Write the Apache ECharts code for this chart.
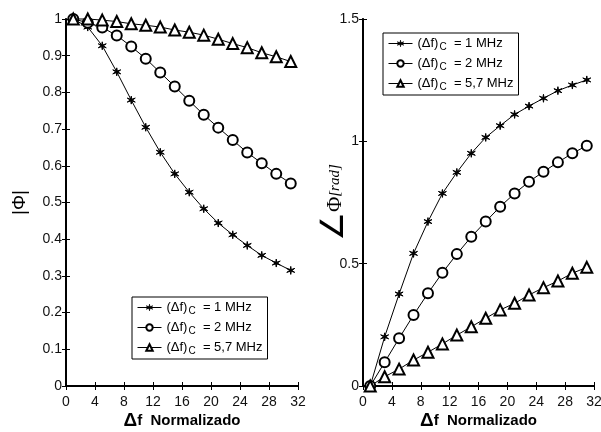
<!doctype html>
<html>
<head>
<meta charset="utf-8"/>
<title>Phi</title>
<script src="https://cdn.jsdelivr.net/npm/echarts@6/dist/echarts.min.js"></script>
<style>
body { margin: 0; background: #fff; }
#chart { width: 601px; height: 432px; }
</style>
</head>
<body>
<div id="chart"></div>
<script>
// eixo x (Δf normalizado)
const xs = [1, 3, 5, 7, 9, 11, 13, 15, 17, 19, 21, 23, 25, 27, 29, 31];
const xTicks = [0, 4, 8, 12, 16, 20, 24, 28, 32];

// |Φ|
const mag1 = [1, 0.978, 0.927, 0.856, 0.779, 0.705, 0.637, 0.578, 0.528, 0.483, 0.444, 0.412, 0.383, 0.356, 0.335, 0.315];
const mag2 = [1, 0.990, 0.977, 0.955, 0.925, 0.892, 0.854, 0.816, 0.777, 0.739, 0.704, 0.670, 0.636, 0.607, 0.578, 0.552];
const mag57 = [1, 1.0, 0.997, 0.993, 0.987, 0.983, 0.978, 0.970, 0.964, 0.956, 0.945, 0.933, 0.922, 0.908, 0.897, 0.884];

// fase de Φ [rad]
const ph1 = [0, 0.201, 0.376, 0.542, 0.672, 0.787, 0.873, 0.951, 1.016, 1.064, 1.110, 1.144, 1.176, 1.207, 1.230, 1.251];
const ph2 = [0, 0.097, 0.195, 0.290, 0.379, 0.463, 0.539, 0.610, 0.672, 0.733, 0.787, 0.835, 0.876, 0.914, 0.951, 0.982];
const ph57 = [0, 0.038, 0.069, 0.106, 0.138, 0.172, 0.208, 0.242, 0.277, 0.311, 0.338, 0.372, 0.402, 0.429, 0.461, 0.485];

const names = ['1 MHz', '2 MHz', '5,7 MHz'];

function starPath(n, ro, ri) {
    let d = '';
    for (let i = 0; i < 2 * n; i++) {
        const r = i % 2 ? ri : ro;
        const a = Math.PI * i / n - Math.PI / 2;
        d += (i ? 'L' : 'M') + (r * Math.cos(a)).toFixed(2) + ' ' + (r * Math.sin(a)).toFixed(2);
    }
    return 'path://' + d + 'Z';
}

const symbols = [starPath(6, 10, 2.4), 'emptyCircle', 'emptyTriangle'];
const sizes = [8, 10, 11];
const font = 'Liberation Sans, Arial, sans-serif';

function pts(ys) { return xs.map((x, i) => [x, ys[i]]); }

function mkSeries(ys, k, g) {
    return {
        name: names[k], type: 'line', data: pts(ys),
        xAxisIndex: g * 2, yAxisIndex: g * 2,
        symbol: symbols[k], symbolSize: sizes[k],
        clip: false, animation: false,
        lineStyle: { color: '#000', width: 1 },
        itemStyle: { color: '#000', borderColor: '#000', borderWidth: 1 }
    };
}

const tickStyle = { show: true, inside: true, length: 4, lineStyle: { color: '#000', width: 1 } };
const labelStyle = { color: '#111', fontFamily: font, fontSize: 14 };

function xAx(g, bottom) {
    return {
        type: 'value', gridIndex: g, min: 0, max: 32, interval: 4,
        position: bottom ? 'bottom' : 'top',
        axisLine: { show: true, lineStyle: { color: '#000', width: bottom ? 2 : 1.5 } },
        axisTick: tickStyle,
        axisLabel: bottom ? Object.assign({ margin: 9 }, labelStyle) : { show: false },
        splitLine: { show: false },
        name: bottom ? '{d|Δ}{f|f  Normalizado}' : '',
        nameLocation: 'middle', nameGap: 25, nameMoveOverlap: false,
        nameTextStyle: {
            rich: {
                d: { fontFamily: font, fontWeight: 'bold', fontSize: 19, color: '#000' },
                f: { fontFamily: font, fontWeight: 'bold', fontSize: 15, color: '#000' }
            }
        }
    };
}

function yAx(g, left, max, step, name, gap, nts) {
    return {
        type: 'value', gridIndex: g, min: 0, max: max, interval: step,
        position: left ? 'left' : 'right',
        axisLine: { show: true, lineStyle: { color: '#000', width: left ? 2 : 1.5 } },
        axisTick: tickStyle,
        axisLabel: left ? Object.assign({ margin: 4 }, labelStyle) : { show: false },
        splitLine: { show: false },
        name: left ? name : '',
        nameLocation: 'middle', nameRotate: 90, nameGap: gap, nameMoveOverlap: false,
        nameTextStyle: nts
    };
}

function legendFor(g, left, top) {
    return {
        orient: 'vertical', left: left, top: top,
        data: names,
        itemWidth: 24, itemHeight: 8, itemGap: 3,
        padding: [2, 5, 3, 5],
        borderColor: '#000', borderWidth: 1, backgroundColor: '#fff',
        lineStyle: { width: 1, color: '#000' },
        itemStyle: { borderWidth: 0.8, borderColor: '#000' },
        formatter: n => '{a|(Δf)}{c|C}{a|  = ' + n + '}',
        textStyle: {
            color: '#000', fontFamily: font, fontSize: 13,
            rich: {
                a: { fontFamily: font, fontSize: 13, lineHeight: 15, color: '#000' },
                c: { fontFamily: font, fontSize: 10, lineHeight: 9, padding: [7, 0, 0, 1], color: '#000' }
            }
        }
    };
}

const chart = echarts.init(document.getElementById('chart'), null, { renderer: 'canvas' });
chart.setOption({
    animation: false,
    backgroundColor: '#fff',
    grid: [
        { left: 66, top: 19, right: 303, bottom: 46, outerBoundsMode: 'none', containLabel: false },
        { left: 363, top: 19, right: 7, bottom: 46, outerBoundsMode: 'none', containLabel: false }
    ],
    xAxis: [xAx(0, true), xAx(0, false), xAx(1, true), xAx(1, false)],
    yAxis: [
        yAx(0, true, 1, 0.1, '|Φ|', 37, { fontFamily: font, fontSize: 19, color: '#000' }),
        yAx(0, false, 1, 0.1, '', 0, {}),
        yAx(1, true, 1.5, 0.5, '{ang|∠}{phi|Φ}{rad|[rad]}', 12, {
            rich: {
                ang: { fontFamily: 'DejaVu Sans', fontSize: 32, color: '#000' },
                phi: { fontFamily: 'Liberation Serif', fontSize: 21, color: '#000' },
                rad: { fontFamily: 'Liberation Serif', fontStyle: 'italic', fontSize: 15, color: '#000' }
            }
        }),
        yAx(1, false, 1.5, 0.5, '', 0, {})
    ],
    legend: [legendFor(0, 132, 297), legendFor(1, 383, 33)],
    series: [
        mkSeries(mag1, 0, 0), mkSeries(mag2, 1, 0), mkSeries(mag57, 2, 0),
        mkSeries(ph1, 0, 1), mkSeries(ph2, 1, 1), mkSeries(ph57, 2, 1)
    ]
});
</script>
</body>
</html>
